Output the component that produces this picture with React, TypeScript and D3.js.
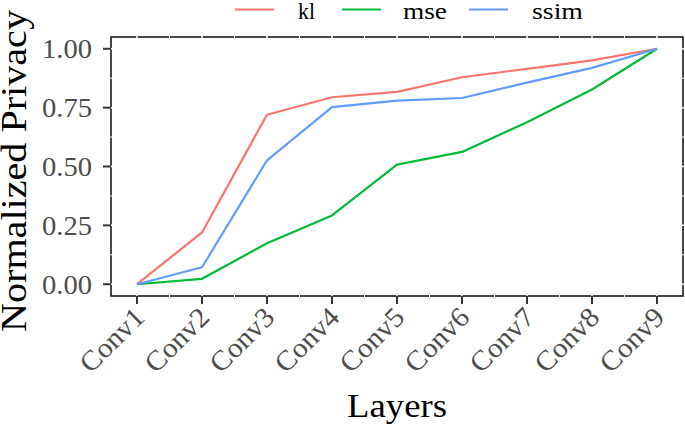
import React from "react";
import * as d3 from "d3";

const layers = ["Conv1", "Conv2", "Conv3", "Conv4", "Conv5", "Conv6", "Conv7", "Conv8", "Conv9"];
const klValues = [0, 0.22, 0.72, 0.794, 0.817, 0.879, 0.915, 0.951, 1.0];
const mseValues = [0, 0.023, 0.174, 0.292, 0.508, 0.562, 0.688, 0.827, 1.0];
const ssimValues = [0, 0.072, 0.526, 0.752, 0.78, 0.791, 0.856, 0.919, 1.0];
const yTicks = [0, 0.25, 0.5, 0.75, 1.0];
const yMinor = [0.125, 0.375, 0.625, 0.875];

const seriesNames = ["kl", "mse", "ssim"];
const seriesValues = [klValues, mseValues, ssimValues];
const seriesColors = ["#F8766D", "#00BA38", "#619CFF"];

const W = 685;
const H = 427;
const FONT = "'Liberation Serif', 'DejaVu Serif', serif";

export default function App() {
  const left = 111, right = 683, top = 37, bottom = 296;
  const n = layers.length;
  const xExp = (n - 1) * 0.05;
  const x = d3.scaleLinear().domain([1 - xExp, n + xExp]).range([left, right]);
  const y = d3.scaleLinear().domain([-0.05, 1.05]).range([bottom, top]);
  const line = d3
    .line<number>()
    .x((_, i) => x(i + 1))
    .y((v) => y(v));
  const xMinor = d3.range(1.5, n, 1);

  const legendLine = [235, 342, 469];
  const legendText = [298, 403, 532];
  const legendTextLen = [17, 44, 51];

  return (
    <svg width={W} height={H} style={{ position: "absolute", left: 0, top: 0, background: "#fff" }}>
      <rect x={0} y={0} width={W} height={H} fill="#fff" />
      {/* panel border */}
      <rect x={left} y={top} width={right - left} height={bottom - top} fill="none" stroke="#1a1a1a" strokeWidth={1.6} />
      {/* white grid lines */}
      {yMinor.map((t) => (
        <line key={"ym" + t} x1={left - 1} x2={right + 1} y1={y(t)} y2={y(t)} stroke="#fff" strokeWidth={1} />
      ))}
      {yTicks.map((t) => (
        <line key={"yg" + t} x1={left - 1} x2={right + 1} y1={y(t)} y2={y(t)} stroke="#fff" strokeWidth={1.5} />
      ))}
      {xMinor.map((t) => (
        <line key={"xm" + t} x1={x(t)} x2={x(t)} y1={top - 1} y2={bottom + 1} stroke="#fff" strokeWidth={1} />
      ))}
      {layers.map((_, i) => (
        <line key={"xg" + i} x1={x(i + 1)} x2={x(i + 1)} y1={top - 1} y2={bottom + 1} stroke="#fff" strokeWidth={1.5} />
      ))}
      {/* data lines */}
      {seriesValues.map((vals, si) => (
        <path key={seriesNames[si]} d={line(vals) || ""} fill="none" stroke={seriesColors[si]} strokeWidth={2.2} strokeLinejoin="round" />
      ))}
      {/* y axis ticks */}
      {yTicks.map((t) => (
        <g key={"yt" + t}>
          <line x1={left - 8} x2={left} y1={y(t)} y2={y(t)} stroke="#333" strokeWidth={2} />
          <text x={left - 19} y={y(t)} dy="0.34em" textAnchor="end" fontFamily={FONT} fontSize={28} fill="#4d4d4d" textLength={50} lengthAdjust="spacingAndGlyphs">
            {t.toFixed(2)}
          </text>
        </g>
      ))}
      {/* x axis ticks */}
      {layers.map((lab, i) => (
        <g key={"xt" + lab}>
          <line x1={x(i + 1)} x2={x(i + 1)} y1={bottom} y2={bottom + 8} stroke="#333" strokeWidth={2} />
          <text
            transform={`translate(${x(i + 1) + 9},${bottom + 23}) rotate(-45)`}
            textAnchor="end"
            fontFamily={FONT}
            fontSize={28}
            fill="#4d4d4d"
            textLength={78}
            lengthAdjust="spacingAndGlyphs"
          >
            {lab}
          </text>
        </g>
      ))}
      {/* axis titles */}
      <text x={(left + right) / 2} y={417} textAnchor="middle" fontFamily={FONT} fontSize={33} fill="#000" textLength={100} lengthAdjust="spacingAndGlyphs">
        Layers
      </text>
      <text
        transform={`translate(26,${171}) rotate(-90)`}
        textAnchor="middle"
        fontFamily={FONT}
        fontSize={35}
        fill="#000"
        textLength={322}
        lengthAdjust="spacingAndGlyphs"
      >
        Normalized Privacy
      </text>
      {/* legend */}
      {seriesNames.map((nm, i) => (
        <g key={"lg" + nm}>
          <line x1={legendLine[i]} x2={legendLine[i] + 39} y1={9.5} y2={9.5} stroke={seriesColors[i]} strokeWidth={2.2} />
          <text x={legendText[i]} y={19} fontFamily={FONT} fontSize={24} fill="#000" textLength={legendTextLen[i]} lengthAdjust="spacingAndGlyphs">
            {nm}
          </text>
        </g>
      ))}
    </svg>
  );
}
